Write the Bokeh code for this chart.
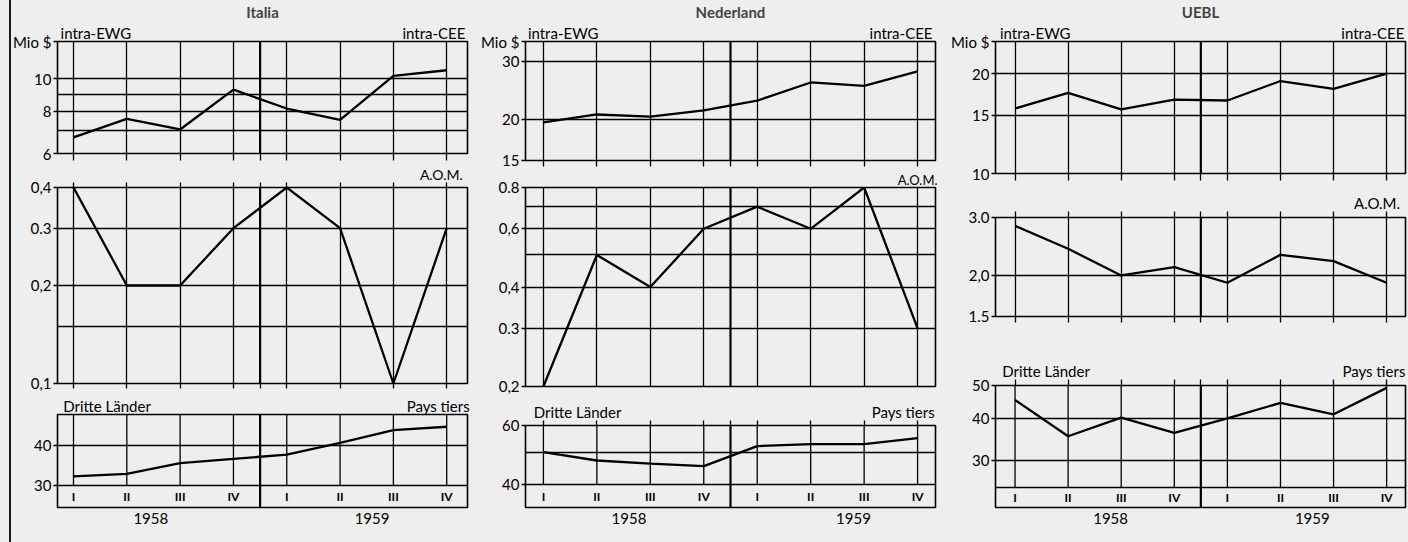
import math
from bokeh.plotting import figure
from bokeh.models import Range1d, FixedTicker, LinearAxis, Span, GlobalInlineStyleSheet
from bokeh.layouts import row, column
from bokeh.core.properties import value
from bokeh.embed import file_html
from bokeh.resources import INLINE

# ---------------- data ----------------
quarters = [0, 1, 2, 3, 4, 5, 6, 7]
quarter_labels = ["I", "II", "III", "IV", "I", "II", "III", "IV"]
years = ["1958", "1959"]

it_intra = [6.7, 7.6, 7.07, 9.28, 8.16, 7.55, 10.2, 10.6]
it_aom = [0.4, 0.2, 0.2, 0.3, 0.4, 0.3, 0.1, 0.3]
it_third = [32.1, 32.7, 35.3, 36.4, 37.5, 40.8, 44.7, 45.8]

nl_intra = [19.6, 20.7, 20.4, 21.3, 22.8, 25.9, 25.3, 28.0]
nl_aom = [0.2, 0.5, 0.4, 0.6, 0.7, 0.6, 0.8, 0.3]
nl_third = [50.0, 47.2, 46.2, 45.4, 52.1, 52.8, 52.8, 55.0]

be_intra = [15.7, 17.5, 15.6, 16.7, 16.6, 19.0, 18.0, 20.0]
be_aom = [2.83, 2.41, 2.0, 2.12, 1.9, 2.31, 2.21, 1.9]
be_third = [45.3, 35.4, 40.2, 36.2, 40.0, 44.4, 41.1, 49.2]

titles = ["Italia", "Nederland", "UEBL"]
top_labels = ["intra-EWG", "intra-CEE"]
mid_label = "A.O.M."
bot_labels = ["Dritte Länder", "Pays tiers"]
unit_label = "Mio $"

# ---------------- layout / style ----------------
BG = "#eeeeee"
FONT = "Lato"
FS = "15px"
TICK_FS = "15px"

columns_spec = [
    dict(title=titles[0], xr=(-0.30, 7.39), bl=57, br=11, fw=410, year_pos=[1.45, 5.6],
         top_pos=[0.42, 6.76], bot_pos=[0.63, 6.84], aom_pos=6.9,
         panels=[
             dict(kind="top", yr=(6, 12.9), bt=38, fh=115, bb=9, tick=7, data=it_intra,
                  ticks=[6, 8, 10], labels=["6", "8", "10"], grid=[6, 7, 8, 9, 10]),
             dict(kind="mid", yr=(0.1, 0.4), bt=22, fh=199, bb=10, tick=5, lab_fs="14px",
                  combined=False, data=it_aom,
                  ticks=[0.1, 0.2, 0.3, 0.4], labels=["0,1", "0,2", "0.3", "0,4"],
                  grid=[0.1, 0.15, 0.2, 0.3, 0.4]),
             dict(kind="bot", yr=(25.7, 50), bt=19, fh=95, bb=26, tick=0, data=it_third,
                  ticks=[30, 40], labels=["30", "40"], grid=[30, 40], strip=30),
         ]),
    dict(title=titles[1], xr=(-0.335, 7.335), bl=45, br=13, fw=412, year_pos=[1.6, 5.8],
         top_pos=[0.37, 6.69], bot_pos=[0.64, 6.73], aom_pos=7,
         panels=[
             dict(kind="top", yr=(15, 34.5), bt=39, fh=121, bb=8, tick=6, data=nl_intra,
                  ticks=[15, 20, 30], labels=["15", "20", "30"], grid=[15, 20, 30]),
             dict(kind="mid", yr=(0.2, 0.8), bt=16, fh=202, bb=10, tick=0, lab_fs="13px",
                  combined=False, data=nl_aom,
                  ticks=[0.2, 0.3, 0.4, 0.6, 0.8], labels=["0,2", "0.3", "0,4", "0,6", "0.8"],
                  grid=[0.2, 0.3, 0.4, 0.5, 0.6, 0.7, 0.8]),
             dict(kind="bot", yr=(34.2, 60), bt=29, fh=82, bb=26, tick=5, data=nl_third,
                  ticks=[40, 60], labels=["40", "60"], grid=[40, 50, 60], strip=40),
         ]),
    dict(title=titles[2], xr=(-0.368, 7.355), bl=44, br=3, fw=413, year_pos=[1.8, 5.6],
         top_pos=[0.38, 6.74], bot_pos=[0.585, 6.76], aom_pos=6.82,
         panels=[
             dict(kind="top", yr=(10, 25), bt=39, fh=134, bb=10, tick=7, data=be_intra,
                  ticks=[10, 15, 20], labels=["10", "15", "20"], grid=[10, 15, 20]),
             dict(kind="mid", yr=(1.5, 3.0), bt=34, fh=99, bb=10, tick=6, lab_fs="15px",
                  combined=False, data=be_aom,
                  ticks=[1.5, 2.0, 3.0], labels=["1.5", "2,0", "3.0"], grid=[1.5, 2.0, 3.0]),
             dict(kind="bot", yr=(21.8, 50), bt=59, fh=122, bb=26, tick=6, data=be_third,
                  ticks=[30, 40, 50], labels=["30", "40", "50"], grid=[25, 30, 40, 50], strip=25),
         ]),
]


def style_axis(ax, tick_out, standoff, font_size=FS, show_labels=True):
    ax.major_tick_out = tick_out
    ax.major_tick_in = 0
    ax.major_tick_line_color = "black" if tick_out > 0 else None
    ax.major_tick_line_width = 1.3
    ax.minor_tick_line_color = None
    ax.axis_line_color = None
    ax.major_label_standoff = standoff
    ax.major_label_text_font = FONT
    if show_labels:
        ax.major_label_text_font_size = font_size
        ax.major_label_text_color = "black"
    else:
        ax.major_label_text_font_size = "0px"
        ax.major_label_text_color = None


def label_axis(p, positions, texts, where="above", tick_out=0, standoff=0, font_size=FS):
    ax = LinearAxis(ticker=FixedTicker(ticks=positions),
                    major_label_overrides={t: s for t, s in zip(positions, texts)})
    style_axis(ax, tick_out, standoff, font_size)
    p.add_layout(ax, where)
    return ax


def tick_only_axis(p, positions, tick_out, where):
    ax = LinearAxis(ticker=FixedTicker(ticks=positions))
    style_axis(ax, tick_out, 0, show_labels=False)
    p.add_layout(ax, where)


def make_panel(cs, ps):
    x0, x1 = cs["xr"]
    y0, y1 = ps["yr"]
    p = figure(width=cs["bl"] + cs["fw"] + cs["br"], height=ps["bt"] + ps["fh"] + ps["bb"],
               x_range=Range1d(x0, x1), y_range=Range1d(y0, y1), y_axis_type="log",
               x_axis_location=None,
               output_backend="svg", toolbar_location=None,
               min_border_left=cs["bl"], min_border_right=cs["br"],
               min_border_top=ps["bt"], min_border_bottom=ps["bb"],
               background_fill_color=BG, border_fill_color=None,
               outline_line_color="black", outline_line_width=1.6)

    # y axis (the unit label sits at the top of the first panel)
    yt = list(ps["ticks"])
    yl = list(ps["labels"])
    if ps["kind"] == "top":
        yt.append(y1)
        yl.append(unit_label)
    ya = p.yaxis[0]
    ya.ticker = FixedTicker(ticks=yt)
    ya.major_label_overrides = {t: l for t, l in zip(yt, yl)}
    style_axis(ya, 4, 2, font_size=TICK_FS)

    # grids
    p.ygrid.ticker = FixedTicker(ticks=ps["grid"])
    p.ygrid.grid_line_color = "black"
    p.ygrid.grid_line_width = 1.3
    p.ygrid.minor_grid_line_color = None
    if ps["kind"] == "bot":
        p.xgrid.visible = False
        p.segment(x0=quarters, y0=[ps["strip"]] * len(quarters), x1=quarters,
                  y1=[y1] * len(quarters), line_color="black", line_width=1.3)
        smid = math.sqrt(ps["strip"] * y0)
        p.text(x=quarters, y=[smid] * len(quarters), text=quarter_labels,
               text_align="center", text_baseline="middle", text_font=value(FONT),
               text_font_size="12px", text_font_style="bold", text_color="black")
    else:
        p.xgrid.ticker = FixedTicker(ticks=quarters)
        p.xgrid.grid_line_color = "black"
        p.xgrid.grid_line_width = 1.3

    p.add_layout(Span(location=3.5, dimension="height", line_color="black", line_width=2.2))

    tick_pos = quarters + [3.5]

    # below
    if ps["kind"] == "bot":
        label_axis(p, cs["year_pos"], years, where="below", standoff=5)
    else:
        tick_only_axis(p, tick_pos, ps["tick"], "below")

    # above
    if ps["kind"] == "top":
        label_axis(p, cs["top_pos"], top_labels, standoff=0)
        p.title.text = cs["title"]
        p.title.align = "center"
        p.title.text_font = FONT
        p.title.text_font_size = "15px"
        p.title.text_font_style = "bold"
        p.title.standoff = 0
        p.title.offset = 0
    elif ps["kind"] == "mid":
        if ps["tick"] > 0:
            tick_only_axis(p, tick_pos, ps["tick"], "above")
        label_axis(p, [cs["aom_pos"]], [mid_label], standoff=0, font_size=ps["lab_fs"])
    else:
        if ps["tick"] > 0:
            tick_only_axis(p, tick_pos, ps["tick"], "above")
        label_axis(p, cs["bot_pos"], bot_labels, standoff=0)

    # data line
    p.line(quarters, ps["data"], line_color="black", line_width=2.3)
    return p


cols = []
for cs in columns_spec:
    figs = [make_panel(cs, ps) for ps in cs["panels"]]
    cols.append(column(*figs, spacing=0))

page_css = ("body { background: linear-gradient(to right, #eeeeee 0px, #eeeeee 9px, "
            "#1a1a1a 9px, #1a1a1a 11px, #eeeeee 11px); }")
root = row(*cols, spacing=0, stylesheets=[GlobalInlineStyleSheet(css=page_css)])

open("out.html", "w").write(file_html(root, INLINE))
